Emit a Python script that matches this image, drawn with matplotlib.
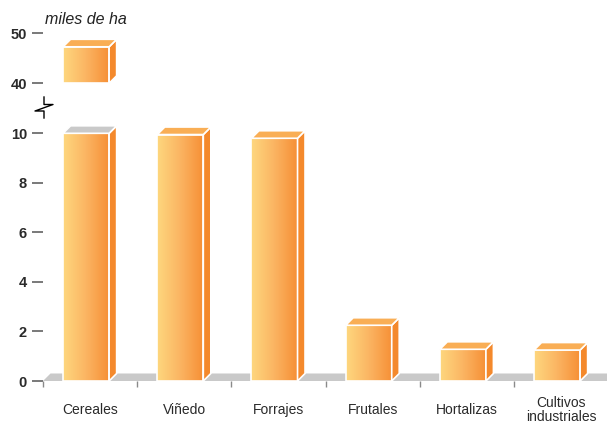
import matplotlib
matplotlib.use('Agg')
import matplotlib.pyplot as plt
import numpy as np
from matplotlib.patches import Polygon, Rectangle
from matplotlib.colors import LinearSegmentedColormap
from matplotlib.lines import Line2D

categories = ['Cereales', 'Viñedo', 'Forrajes', 'Frutales', 'Hortalizas', 'Cultivos\nindustriales']
values = [47.3, 9.95, 9.8, 2.25, 1.28, 1.25]
lower_ticks = [0, 2, 4, 6, 8, 10]
upper_ticks = [40, 50]
unit = 'miles de ha'

W, H = 607, 423
fig = plt.figure(figsize=(W / 100, H / 100), dpi=100)

def fx(px):
    return px / W

def fy(py):
    return 1 - py / H

# axes geometry (pixels)
x_left, x_right = 43, 607
px_per_cat = 94.2
lo_bot, lo_top = 381, 133.3
up_bot, up_top = 83.3, 33.3

ax_lo = fig.add_axes([fx(x_left), fy(lo_bot), fx(x_right - x_left), (lo_bot - lo_top) / H])
ax_up = fig.add_axes([fx(x_left), fy(up_bot), fx(x_right - x_left), (up_bot - up_top) / H])

xmin = -0.5
xmax = xmin + (x_right - x_left) / px_per_cat

grad = LinearSegmentedColormap.from_list('g', ['#fed77e', '#fbb462', '#f68f35'])
top_col = '#f9ae55'
side_col = '#f4892c'
grey = '#c9c9c9'
depth_px = 7.5
bar_l, bar_w = -0.287, 0.489


def box(ax, x0, y0, y1, dx, dy, top_grey=False):
    x1 = x0 + bar_w
    ax.imshow(np.linspace(0, 1, 64).reshape(1, -1), cmap=grad, aspect='auto',
              extent=(x0, x1, y0, y1), zorder=3, interpolation='bilinear')
    ax.add_patch(Rectangle((x0, y0), bar_w, y1 - y0, fill=False, ec='white', lw=1.2,
                           zorder=4, clip_on=False))
    ax.add_patch(Polygon([(x1, y0), (x1 + dx, y0 + dy), (x1 + dx, y1 + dy), (x1, y1)],
                         fc=side_col, ec='white', lw=1.2, zorder=4, clip_on=False))
    tc = grey if top_grey else top_col
    ax.add_patch(Polygon([(x0, y1), (x0 + dx, y1 + dy), (x1 + dx, y1 + dy), (x1, y1)],
                         fc=tc, ec='white', lw=1.2, zorder=4, clip_on=False))


for ax, (ylo, yhi), ticks in [(ax_lo, (0, 10), lower_ticks), (ax_up, (40, 50), upper_ticks)]:
    ax.set_xlim(xmin, xmax)
    ax.set_ylim(ylo, yhi)
    for s in ax.spines.values():
        s.set_visible(False)
    ax.set_yticks(ticks)
    ax.set_yticklabels([str(t) for t in ticks], fontweight='bold', fontsize=10.5,
                       family=['Liberation Sans', 'DejaVu Sans'], color='#2a2a2a')
    ax.tick_params(axis='y', length=8, width=1.3, color='#6e6e6e', pad=3.5)
    ax.patch.set_visible(False)

dx = depth_px / px_per_cat
dy_lo = depth_px * 10 / (lo_bot - lo_top)
dy_up = depth_px * 10 / (up_bot - up_top)

# floor
ax_lo.add_patch(Polygon([(xmin, 0), (xmax + 1, 0), (xmax + 1 + dx, dy_lo), (xmin + dx, dy_lo)],
                        fc=grey, ec='none', zorder=1))

for i, v in enumerate(values):
    x0 = i + bar_l
    if v > 10:
        box(ax_lo, x0, 0, 10, dx, dy_lo, top_grey=True)
        box(ax_up, x0, 40, v, dx, dy_up)
    else:
        box(ax_lo, x0, 0, v, dx, dy_lo)

ax_lo.set_xticks(range(len(categories)))
ax_lo.set_xticklabels(categories, fontsize=10, family=['Liberation Sans', 'DejaVu Sans'],
                      color='#2a2a2a', linespacing=1.05)
for lab in ax_lo.get_xticklabels():
    lab.set_va('center')
ax_lo.tick_params(axis='x', which='major', length=0, pad=21)
ax_lo.set_xticks([i - 0.5 for i in range(len(categories))], minor=True)
ax_lo.tick_params(axis='x', which='minor', length=4.5, width=1.0, color='#8a8a8a', pad=2)
ax_up.set_xticks([])

# axis break mark
pts = [(44, 97), (44, 104.5), (53, 104.5), (35, 111), (44, 111), (44, 118)]
fig.add_artist(Line2D([fx(p[0]) for p in pts], [fy(p[1]) for p in pts],
                      color='black', lw=1.0, transform=fig.transFigure))

fig.text(fx(45), fy(24), unit, fontsize=11.5, style='italic',
         family=['Liberation Sans', 'DejaVu Sans'], color='#222222', va='baseline')

fig.savefig('out.png', dpi=100)
